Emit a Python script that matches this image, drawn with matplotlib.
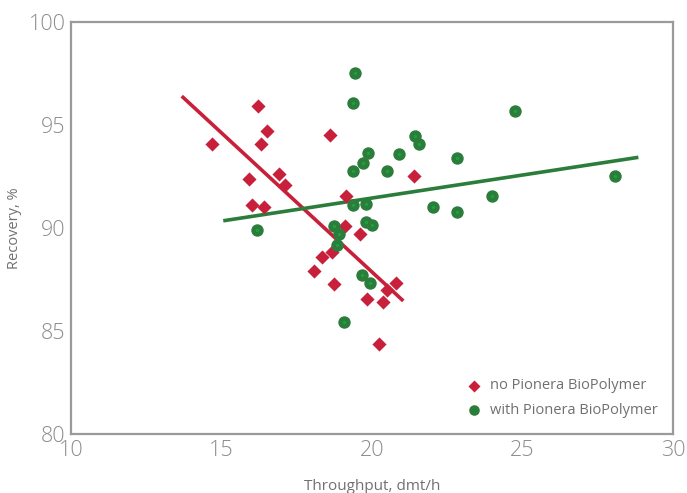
import numpy as np
import matplotlib
matplotlib.use("Agg")
import matplotlib.pyplot as plt

plt.rcParams['font.family'] = ['Open Sans', 'DejaVu Sans']

# no Pionera BioPolymer
no_x = [14.7, 16.2, 16.5, 16.3, 18.6, 15.9, 16.9, 17.1, 16.0, 16.4, 21.4, 19.15,
        19.1, 19.6, 18.33, 18.66, 18.07, 18.73, 20.79, 20.49, 19.84, 20.36, 20.23]
no_y = [94.1, 95.9, 94.7, 94.1, 94.5, 92.4, 92.6, 92.1, 91.1, 91.0, 92.5, 91.55,
        90.1, 89.7, 88.58, 88.85, 87.91, 87.27, 87.32, 86.99, 86.54, 86.39, 84.37]

# with Pionera BioPolymer
with_x = [19.43, 19.37, 19.88, 19.69, 19.37, 20.49, 20.91, 21.42, 21.55, 19.36,
          19.79, 22.04, 16.18, 18.73, 19.79, 20.0, 18.91, 18.85, 19.66, 19.92,
          19.06, 24.75, 22.82, 28.07, 23.99, 22.82]
with_y = [97.5, 96.07, 93.63, 93.17, 92.78, 92.78, 93.61, 94.48, 94.08, 91.1,
          91.18, 91.0, 89.89, 90.11, 90.31, 90.15, 89.71, 89.17, 87.72, 87.32,
          85.42, 95.7, 93.41, 92.51, 91.55, 90.79]

# trend line end points
trend_no_x = [13.68, 21.04]
trend_no_y = [96.4, 86.46]
trend_with_x = [15.06, 28.85]
trend_with_y = [90.35, 93.43]

red = '#c8203a'
green = '#2a7d3a'
grey = '#8c8c8c'

fig = plt.figure(figsize=(6.87, 4.93), dpi=100)
ax = fig.add_axes([0.1033, 0.1197, 0.8763, 0.8357])

ax.plot(trend_no_x, trend_no_y, color=red, lw=2.6, solid_capstyle='butt', zorder=2)
ax.plot(trend_with_x, trend_with_y, color=green, lw=2.6, solid_capstyle='butt', zorder=2)

ax.scatter(no_x, no_y, marker='D', s=52, color=red, lw=0, zorder=3,
           label='no Pionera BioPolymer')
ax.scatter(with_x, with_y, marker='o', s=80, color=green, lw=0, zorder=3,
           label='with Pionera BioPolymer')
ax.scatter(with_x, with_y, marker='o', s=6, color='#1fa040', lw=0, zorder=4)

ax.set_xlim(10, 30)
ax.set_ylim(80, 100)
ax.set_xticks([10, 15, 20, 25, 30])
ax.set_yticks([80, 85, 90, 95, 100])
ax.tick_params(length=0, labelsize=15.5, labelcolor=grey, pad=4)
for lab in ax.get_xticklabels() + ax.get_yticklabels():
    lab.set_fontweight('light')

for sp in ax.spines.values():
    sp.set_color('#9a9a9a')
    sp.set_linewidth(1.6)

ax.set_xlabel('Throughput, dmt/h', fontsize=11, color='#707070', labelpad=13)
ax.set_ylabel('Recovery, %', fontsize=10.5, color='#707070', labelpad=5)

leg = ax.legend(loc='lower right', frameon=False, fontsize=10.5, labelcolor='#707070',
                handletextpad=0.15, borderaxespad=0, labelspacing=0.65,
                markerscale=0.85, bbox_to_anchor=(0.985, 0.025))

fig.savefig('out.png', dpi=100)
